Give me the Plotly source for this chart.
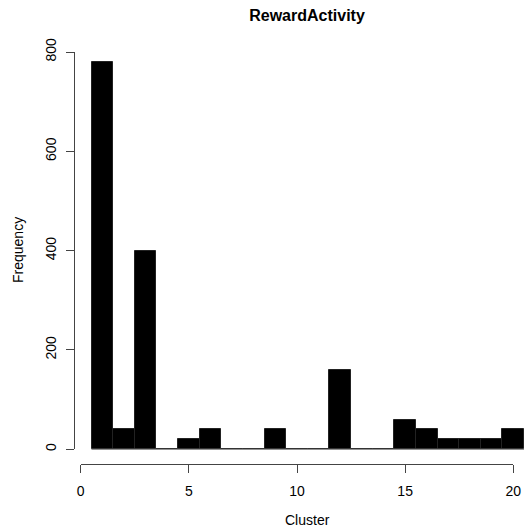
import plotly.graph_objects as go

# Histogram of cluster assignments (unit-width bins centred on integers)
cluster_mids = list(range(1, 21))
frequency = [780, 40, 400, 0, 20, 40, 0, 0, 40, 0, 0, 160, 0, 0, 60, 40, 20, 20, 20, 40]
x_ticks = [0, 5, 10, 15, 20]
y_ticks = [0, 200, 400, 600, 800]
bin_width = 1.0

W, H = 524, 532
ML, MR, MT, MB = 60, 0, 40, 68
plot_w = W - ML - MR
plot_h = H - MT - MB

# pixel calibration of the data scales
x0_px, px_per_x = 80.7, 21.63
y0_px, px_per_y = 449.3, 0.4966
axis_y_px = 74.0

x_lo = (ML - x0_px) / px_per_x
x_hi = (W - MR - x0_px) / px_per_x
y_lo = (y0_px - (H - MB)) / px_per_y
y_hi = (y0_px - MT) / px_per_y


def paper_x(px):
    return (px - ML) / plot_w


def paper_y(py):
    return ((H - MB) - py) / plot_h


font = "Liberation Sans, Arial, Helvetica, sans-serif"
axis_col = "#444444"
border_col = "#222222"

fig = go.Figure()
# outline of the empty bins along the baseline
edges = [cluster_mids[0] - bin_width / 2, cluster_mids[-1] + bin_width / 2]
fig.add_trace(go.Scatter(
    x=edges, y=[0, 0], mode="lines", line=dict(color="#777777", width=1),
    xaxis="x", yaxis="y", showlegend=False, hoverinfo="skip",
))
fig.add_trace(go.Bar(
    x=cluster_mids, y=frequency, width=bin_width,
    marker=dict(color="black", line=dict(color=border_col, width=1)),
    xaxis="x", yaxis="y", showlegend=False, hoverinfo="x+y",
))
# empty trace to carry the detached axes
fig.add_trace(go.Scatter(x=[], y=[], xaxis="x2", yaxis="y2", showlegend=False))

fig.update_layout(
    width=W, height=H,
    margin=dict(l=ML, r=MR, t=MT, b=MB, autoexpand=False),
    plot_bgcolor="rgba(0,0,0,0)", paper_bgcolor="white",
    bargap=0,
    font=dict(family=font, size=14, color="black"),
    xaxis=dict(range=[x_lo, x_hi], visible=False, domain=[0, 1], fixedrange=True),
    yaxis=dict(range=[y_lo, y_hi], visible=False, domain=[0, 1], fixedrange=True),
    xaxis2=dict(
        domain=[paper_x(x0_px), paper_x(x0_px + 20 * px_per_x)], range=[0, 20],
        anchor="free", position=0,
        tickvals=x_ticks, ticktext=[str(v) for v in x_ticks],
        showline=True, linecolor=axis_col, linewidth=1,
        ticks="outside", ticklen=8, tickcolor=axis_col, tickwidth=1,
        showgrid=False, zeroline=False, ticklabelstandoff=6,
        tickfont=dict(size=14), fixedrange=True,
    ),
    yaxis2=dict(
        domain=[paper_y(y0_px), paper_y(y0_px - 800 * px_per_y)], range=[0, 800],
        anchor="free", position=paper_x(axis_y_px),
        tickvals=y_ticks, ticktext=[str(v) for v in y_ticks],
        showline=True, linecolor=axis_col, linewidth=1,
        ticks="outside", ticklen=8, tickcolor=axis_col, tickwidth=1,
        showgrid=False, zeroline=False, tickangle=-90, ticklabelstandoff=4,
        tickfont=dict(size=14), fixedrange=True,
    ),
    title=dict(text="<b>RewardActivity</b>", x=307 / W, xanchor="center",
               y=1 - 15 / H, yanchor="middle", font=dict(size=16)),
    annotations=[
        dict(text="Cluster", x=paper_x(307), y=paper_y(520), xref="paper", yref="paper",
             xanchor="center", yanchor="middle", showarrow=False, font=dict(size=14)),
        dict(text="Frequency", x=paper_x(18), y=paper_y(250), xref="paper", yref="paper",
             xanchor="center", yanchor="middle", showarrow=False, textangle=-90,
             font=dict(size=14)),
    ],
)

fig.write_html("out.html")
